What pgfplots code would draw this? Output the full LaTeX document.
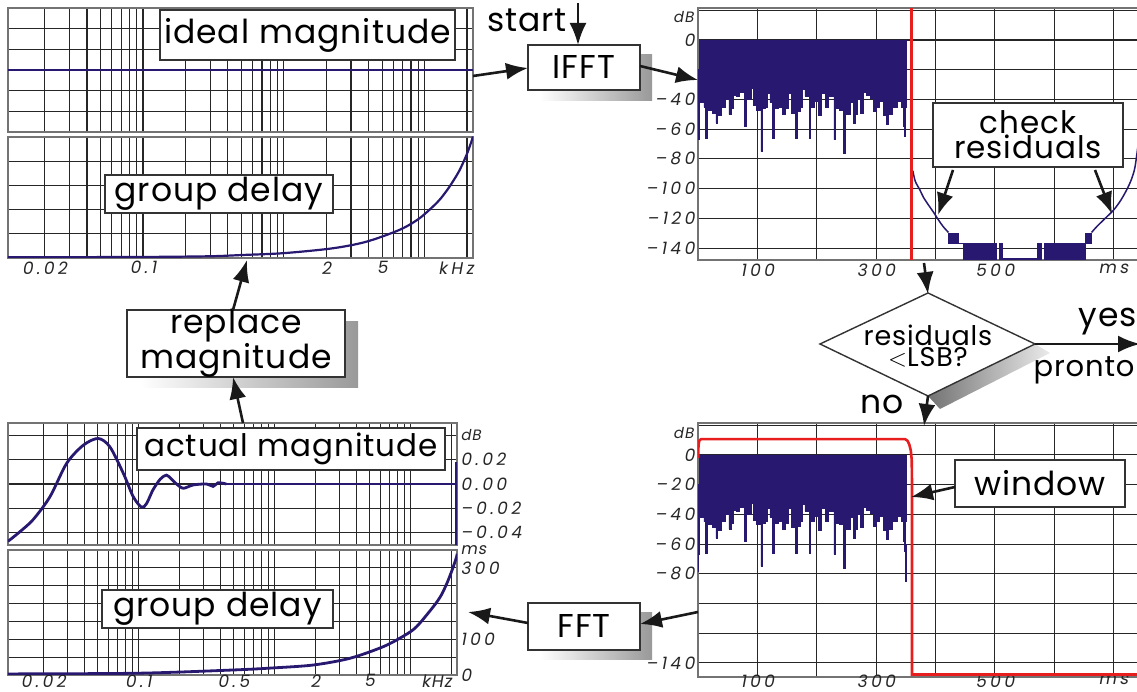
\documentclass[border=0pt]{standalone}
\usepackage{fontspec}
\setmainfont{Poppins}[LetterSpace=3]
\newfontfamily\tickfont[FakeSlant=0.18,LetterSpace=20]{Poppins}
\newfontfamily\unitfont[FakeSlant=0.18,LetterSpace=6]{Poppins}
\usepackage{pgfplots}
\pgfplotsset{compat=1.18}
\usetikzlibrary{arrows.meta}
\definecolor{navy}{RGB}{40,24,112}
\definecolor{wred}{RGB}{232,30,30}
\newcommand{\bigtxt}{\fontsize{33}{29}\selectfont}
\pgfplotsset{
  mybase/.style={scale only axis, clip=true, axis line style={draw=black!55,line width=1.1pt},
    tick style={draw=none}, major tick length=0pt, minor tick length=0pt,
    grid style={black!85,line width=1.1pt}, minor grid style={black!85,line width=1.1pt},
    scaled ticks=false,
    ticklabel style={font=\tickfont\fontsize{17}{17}\selectfont, text=black!85}},
  mylog/.style={mybase, xmin=0.011, xmax=22.05,
    minor xtick={0.02,0.03,0.04,0.05,0.06,0.07,0.08,0.09,0.1,0.2,0.3,0.4,0.5,0.6,0.7,0.8,0.9,1,2,3,4,5,6,7,8,9,10,20},
    xminorgrids=true, xmajorgrids=false, ymajorgrids=true},
  mytime/.style={mybase, xmin=0, xmax=743, xtick={0,100,...,700},
    xticklabels={,100,,300,,500,,ms}, xmajorgrids, ymajorgrids,
    ytick={-140,-120,...,20}, width=441pt},
}
\pgfplotstableread{
x y
0.5 -67
2 -42
10 -45
12 -66
15 -46
18 -47
24 -49
30 -56
33 -51
40 -45
46 -40
52 -50
56 -46
59 -37
64 -38
69 -35
78 -58
81 -40
86 -40
89 -32.5
93 -44
99 -47
106 -75
109 -46
113 -45
117 -36
121 -42
125 -66
128 -46
136 -45
142 -50
147 -46
152 -36
157 -49
164 -66
167 -48
172 -45
175 -33.5
180 -38
187 -66
190 -45
196 -41
203 -50.5
208 -36
214 -45
219 -38
229 -67
232 -46
238 -47
245 -76
248 -50
256 -42
262 -56
265 -50
268 -40
273 -49
279 -35
284 -37
290 -39
295 -48
301 -45
306 -41.5
312 -50.5
318 -57
321 -50
328 -45
336 -41.5
342 -45
346 -58
348 -65
350 -45
351 -20
351.5 0
5 0
3 -20
1 -40
0.5 -67
}\irdata
\begin{document}
\begin{tikzpicture}
\useasboundingbox (0,0) rectangle (1137pt,692pt);
\clip (0,0) rectangle (1137pt,692pt);
% ---------- left: ideal magnitude
\begin{axis}[xmode=log, mylog, at={(8pt,684pt)}, anchor=north west, width=465pt, height=124pt,
  ymin=-3, ymax=3, ytick={-2,...,2}, yticklabels={}, xtick={0.1,1,10}, xticklabels={,,}]
\addplot[navy, line width=2.2pt] coordinates {(0.011,0) (22.05,0)};
\end{axis}
% ---------- left: group delay (top)
\begin{axis}[xmode=log, mylog, at={(8pt,555pt)}, anchor=north west, width=465pt, height=121pt,
  ymin=0, ymax=350, ytick={70,140,210,280}, yticklabels={},
  xtick={0.02,0.1,2,5,16.7}, xticklabels={0.02,0.1,2,5,kHz}]
\addplot[navy, line width=2.2pt, smooth] coordinates {(0.011,2) (0.1,3) (0.3,5) (0.51,8.7) (1,14) (2.22,28) (3.85,47) (6.6,81) (9,112) (11.4,148) (13,172) (15,206) (17.5,250) (19.6,293) (21,325) (22.05,351)};
\end{axis}
% ---------- left: actual magnitude
\begin{axis}[xmode=log, mylog, at={(8pt,269pt)}, anchor=north west, width=449pt, height=122pt,
  ymin=-0.05, ymax=0.05, ytick={-0.04,-0.02,0,0.02,0.04}, yticklabel pos=right,
  yticklabels={–0.04,–0.02,0.00,0.02,{\unitfont\fontsize{15}{15}\selectfont dB}}, xtick={0.1,1,10}, xticklabels={,,}]
\addplot[navy, line width=2.8pt, smooth] coordinates {(0.011,-0.047) (0.0135,-0.039) (0.0169,-0.029) (0.0224,-0.0104) (0.0297,0.0169) (0.0394,0.0318) (0.0507,0.0373) (0.0618,0.0304) (0.0776,0.0087) (0.0917,-0.0104) (0.1056,-0.019) (0.115,-0.016) (0.128,-0.0049) (0.145,0.004) (0.161,0.0073) (0.175,0.004) (0.191,0) (0.214,-0.0035) (0.253,-0.0008) (0.318,0) (0.355,-0.002) (0.386,0.001) (0.444,0)};
\addplot[navy, line width=2.8pt] coordinates {(0.444,0) (21.9,0) (21.9,0.018) (21.9,-0.05)};
\end{axis}
% ---------- left: group delay (bottom)
\begin{axis}[xmode=log, mylog, at={(8pt,142pt)}, anchor=north west, width=449pt, height=125pt,
  ymin=0, ymax=350, ytick={0,50,...,350}, yticklabel pos=right,
  yticklabels={0,,100,,,,300,{\unitfont\fontsize{16}{16}\selectfont ms}}, xticklabel style={yshift=4pt},
  xtick={0.02,0.1,0.5,2,5,15.6}, xticklabels={0.02,0.1,0.5,2,5,{\unitfont kHz}}]
\addplot[navy, line width=2.8pt, smooth] coordinates {(0.011,3) (0.1,5) (0.497,14) (1,20) (1.94,28) (3.59,46.7) (6.3,79) (9,110) (11.1,135) (14.75,191) (16.8,222) (18.6,257) (20.3,294) (21.9,331) (22.05,340)};
\end{axis}
% ---------- right: after IFFT
\begin{axis}[mytime, at={(698pt,684pt)}, anchor=north west, height=252pt, ymin=-148, ymax=21.5,
  yticklabels={–140,–120,–100,–80,–60,–40,,0,}]
\addplot[const plot, fill=navy, draw=navy, line width=0.6pt] table {\irdata};
\addplot[navy, line width=1.5pt, smooth] coordinates {(362,-88) (366,-95) (374,-101) (380,-106) (390,-112) (397,-116) (405,-121) (413,-125.5) (422,-129.5)};
\addplot[fill=navy, draw=navy] coordinates {(422,-130) (439,-130) (439,-137) (422,-137)};
\addplot[navy, line width=1.5pt] coordinates {(439,-137) (447,-137)};
\addplot[fill=navy, draw=navy] coordinates {(447,-137) (503,-137) (503,-148) (447,-148)};
\addplot[fill=navy, draw=navy] coordinates {(507,-137) (512,-137) (512,-148) (507,-148)};
\addplot[navy, line width=1.5pt] coordinates {(512,-147.2) (571,-147.2)};
\addplot[fill=navy, draw=navy] coordinates {(571,-137) (578,-137) (578,-148) (571,-148)};
\addplot[fill=navy, draw=navy] coordinates {(583,-137) (652,-137) (652,-148) (583,-148)};
\addplot[fill=navy, draw=navy] coordinates {(652,-130) (663,-130) (663,-137) (652,-137)};
\addplot[navy, line width=1.5pt, smooth] coordinates {(663,-129.5) (672,-125.5) (686,-120) (700,-114.5) (712,-108) (722,-101) (730,-94) (736,-86) (741,-72)};
\addplot[wred, line width=3pt] coordinates {(360,-148) (360,21.5)};
\end{axis}
% ---------- right: windowed
\begin{axis}[mytime, at={(698pt,269pt)}, anchor=north west, height=254pt, ymin=-149.5, ymax=21.5,
  yticklabels={–140,,,–80,–60,–40,–20,0,}, xticklabel style={yshift=6pt}]
\addplot[const plot, fill=navy, draw=navy, line width=0.6pt] table {\irdata};
\addplot[fill=navy, draw=navy] coordinates {(349,-60) (351,-60) (351,-85) (349,-85)};
\addplot[fill=navy, draw=navy] coordinates {(0,-40) (1,-40) (1,-78) (0,-78)};
\addplot[wred, line width=2.6pt] coordinates {(0.3,-2) (0.8,6) (2,9.6) (5,10.6) (349,10.6) (353,9.5) (356,7) (358.5,3) (360,-3) (360.6,-20) (360.6,-147.8) (743,-147.8)};
\end{axis}
% ---------- flowchart
\begin{scope}[yshift=692pt, x=1pt, y=-1pt]
\tikzset{arr/.style={line width=2.6pt, black!90, -{Latex[length=22pt,width=17pt]}},
  bx/.style={fill=white, draw=black!80, line width=1.4pt}}
\node[font=\unitfont\fontsize{15}{15}\selectfont, text=black!85, anchor=east] at (697,17) {dB};
\node[font=\unitfont\fontsize{15}{15}\selectfont, text=black!85, anchor=east] at (697,433) {dB};
\draw[bx] (160,10) rectangle (455,60);
\node at (307.5,35) {\bigtxt ideal magnitude};
\draw[bx] (105,175) rectangle (333,213);
\node at (219,194) {\bigtxt group delay};
\draw[bx] (137,428) rectangle (445,470);
\node at (291,449) {\fontsize{31}{29}\selectfont actual magnitude};
\draw[bx] (102,590) rectangle (333,628);
\node at (217.5,609) {\bigtxt group delay};
\draw[bx] (933,103) rectangle (1123,167);
\node[align=center] at (1028,135) {\fontsize{31}{30}\selectfont check\\ \fontsize{31}{30}\selectfont residuals};
\draw[bx] (955,460) rectangle (1125,507);
\node at (1040,483) {\bigtxt window};
\shade[left color=white, right color=black!40] (540,55) rectangle (652,101);
\draw[bx] (528,45) rectangle (640,90);
\node at (584,67.5) {\bigtxt IFFT};
\shade[left color=white, right color=black!40] (540,613) rectangle (652,660);
\draw[bx] (528,603) rectangle (640,650);
\node at (584,626.5) {\bigtxt FFT};
\shade[left color=white, right color=black!40] (140,322) rectangle (358,388);
\draw[bx] (127,310) rectangle (345,377);
\node[align=center] at (236,343.5) {\fontsize{33}{28}\selectfont replace\\ \fontsize{33}{28}\selectfont magnitude};
\shade[left color=black!55, right color=black!8] (928,396) -- (1035,344) -- (1050,353) -- (940,409) -- cycle;
\draw[bx] (820,344) -- (928,293) -- (1035,344) -- (928,396) -- cycle;
\node[align=center] at (928,346) {\fontsize{27}{25}\selectfont residuals\\ \fontsize{27}{25}\selectfont $<$LSB?};
\node at (527,20) {\bigtxt start};
\node at (1108,322) {\bigtxt yes};
\node[anchor=west] at (1030,370) {\fontsize{29}{29}\selectfont pronto};
\node at (882,404) {\bigtxt no};
\draw[arr] (578,3) -- (578,45);
\draw[arr] (473,76) -- (528,68);
\draw[arr] (640,66) -- (698,80);
\draw[arr] (953,170) -- (938,215);
\draw[arr] (1095,170) -- (1112,214);
\draw[arr] (924,263) -- (928,294);
\draw[arr] (1035,344) -- (1140,344);
\draw[arr] (928,396) -- (924,426);
\draw[arr] (955,487) -- (911,497);
\draw[arr] (698,612) -- (640,624);
\draw[arr] (528,623) -- (468,612);
\draw[arr] (243,423) -- (233,377);
\draw[arr] (233,310) -- (247,260);
\end{scope}
\end{tikzpicture}
\end{document}
